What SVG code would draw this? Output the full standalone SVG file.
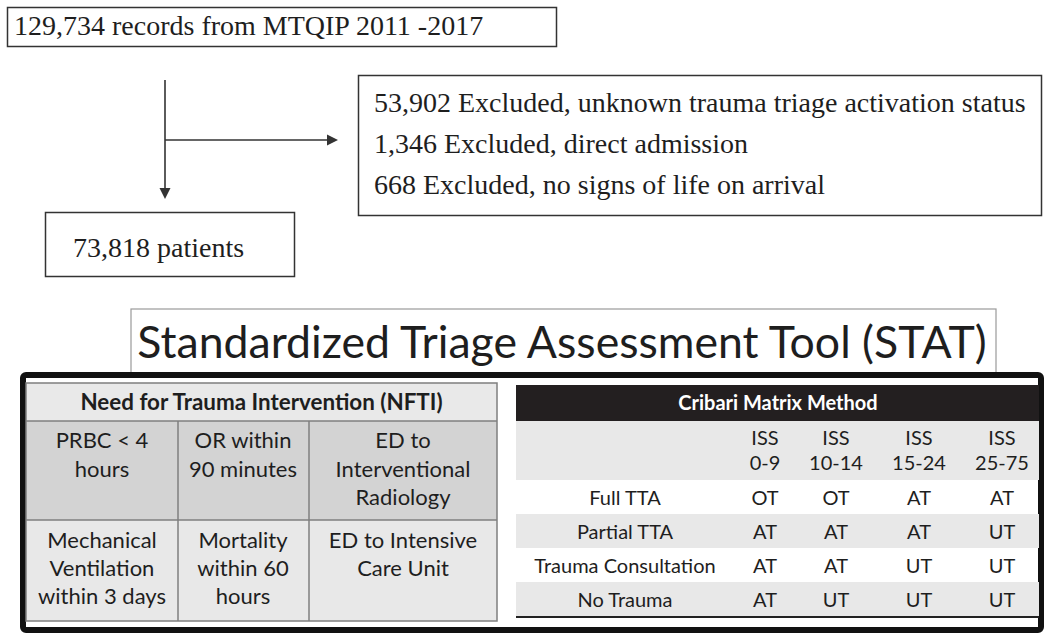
<svg xmlns="http://www.w3.org/2000/svg" width="1050" height="640" viewBox="0 0 1050 640">
  <style>
    .box { fill: #ffffff; stroke: #333333; stroke-width: 1.5; }
    .serif { font-family: "Liberation Serif", "Times New Roman", serif; font-size: 28px; fill: #1e1e1e; }
    .conn { stroke: #333333; stroke-width: 1.6; fill: none; }
    .head { fill: #333333; }
    .sans { font-family: "Lato", "Open Sans", sans-serif; fill: #1e1e1e; text-anchor: middle; }
    .cell { font-size: 22px; }
    .bold { font-weight: bold; }
    .grid { stroke: #7f7f7f; stroke-width: 1.5; fill: none; }
    .mx { font-size: 20px; }
  </style>
  <rect width="1050" height="640" fill="#ffffff"/>

  <g id="records">
    <rect class="box" x="7.5" y="7.5" width="549" height="39"/>
    <text class="serif" x="14" y="35">129,734 records from MTQIP 2011 -2017</text>
  </g>

  <g id="excluded">
    <rect class="box" x="358.5" y="75.5" width="683" height="140"/>
    <text class="serif" x="374" y="112" font-size="28.3">53,902 Excluded, unknown trauma triage activation status</text>
    <text class="serif" x="374" y="153" font-size="28.3">1,346 Excluded, direct admission</text>
    <text class="serif" x="374" y="194" font-size="28.3">668 Excluded, no signs of life on arrival</text>
  </g>

  <g id="patients">
    <rect class="box" x="45.5" y="212.5" width="249" height="64"/>
    <text class="serif" x="73" y="257">73,818 patients</text>
  </g>

  <g id="connectors">
    <line class="conn" x1="165" y1="80" x2="165" y2="190"/>
    <polygon class="head" points="159.5,188 170.5,188 165,199"/>
    <line class="conn" x1="165" y1="140" x2="328" y2="140"/>
    <polygon class="head" points="327,134.5 327,145.5 338,140"/>
  </g>

  <g id="title">
    <rect x="131" y="309" width="865" height="70" fill="#ffffff" stroke="#9a9a9a" stroke-width="1.2"/>
    <text class="sans" x="562" y="358" font-size="44.6">Standardized Triage Assessment Tool (STAT)</text>
  </g>

  <g id="stat-frame">
    <rect x="23" y="375" width="1018" height="255" rx="3" fill="#ffffff" stroke="#111111" stroke-width="6"/>
  </g>

  <g id="nfti">
    <rect x="26" y="383" width="471" height="38" fill="#e9e9e9"/>
    <rect x="26" y="421" width="471" height="99" fill="#d3d3d3"/>
    <rect x="26" y="520" width="471" height="101" fill="#e8e8e8"/>
    <rect class="grid" x="26" y="383" width="471" height="238"/>
    <line class="grid" x1="26" y1="421" x2="497" y2="421"/>
    <line class="grid" x1="26" y1="520" x2="497" y2="520"/>
    <line class="grid" x1="178" y1="421" x2="178" y2="621"/>
    <line class="grid" x1="309" y1="421" x2="309" y2="621"/>
    <text class="sans bold" x="261.5" y="410" font-size="22.4">Need for Trauma Intervention (NFTI)</text>
    <text class="sans cell" x="102" y="448">PRBC &lt; 4</text>
    <text class="sans cell" x="102" y="477">hours</text>
    <text class="sans cell" x="243" y="448">OR within</text>
    <text class="sans cell" x="243" y="477">90 minutes</text>
    <text class="sans cell" x="403" y="448">ED to</text>
    <text class="sans cell" x="403" y="477">Interventional</text>
    <text class="sans cell" x="403" y="505">Radiology</text>
    <text class="sans cell" x="102" y="548">Mechanical</text>
    <text class="sans cell" x="102" y="576">Ventilation</text>
    <text class="sans cell" x="102" y="604">within 3 days</text>
    <text class="sans cell" x="243" y="548">Mortality</text>
    <text class="sans cell" x="243" y="576">within 60</text>
    <text class="sans cell" x="243" y="604">hours</text>
    <text class="sans cell" x="403" y="548">ED to Intensive</text>
    <text class="sans cell" x="403" y="576">Care Unit</text>
  </g>

  <g id="cribari">
    <rect x="516" y="385" width="523" height="36" fill="#231f20"/>
    <rect x="516" y="421" width="523" height="59" fill="#e8e8e8"/>
    <rect x="516" y="514" width="523" height="34" fill="#e8e8e8"/>
    <rect x="516" y="582" width="523" height="35" fill="#e8e8e8"/>
    <line x1="516" y1="617" x2="1039" y2="617" stroke="#222222" stroke-width="2"/>
    <text class="sans bold" x="778" y="410" font-size="20" style="fill:#ffffff">Cribari Matrix Method</text>
    <text class="sans mx" x="765" y="445">ISS</text>
    <text class="sans mx" x="765" y="470">0-9</text>
    <text class="sans mx" x="836" y="445">ISS</text>
    <text class="sans mx" x="836" y="470">10-14</text>
    <text class="sans mx" x="919" y="445">ISS</text>
    <text class="sans mx" x="919" y="470">15-24</text>
    <text class="sans mx" x="1002" y="445">ISS</text>
    <text class="sans mx" x="1002" y="470">25-75</text>
    <text class="sans mx" x="625" y="505">Full TTA</text>
    <text class="sans mx" x="765" y="505">OT</text>
    <text class="sans mx" x="836" y="505">OT</text>
    <text class="sans mx" x="919" y="505">AT</text>
    <text class="sans mx" x="1002" y="505">AT</text>
    <text class="sans mx" x="625" y="539">Partial TTA</text>
    <text class="sans mx" x="765" y="539">AT</text>
    <text class="sans mx" x="836" y="539">AT</text>
    <text class="sans mx" x="919" y="539">AT</text>
    <text class="sans mx" x="1002" y="539">UT</text>
    <text class="sans mx" x="625" y="573">Trauma Consultation</text>
    <text class="sans mx" x="765" y="573">AT</text>
    <text class="sans mx" x="836" y="573">AT</text>
    <text class="sans mx" x="919" y="573">UT</text>
    <text class="sans mx" x="1002" y="573">UT</text>
    <text class="sans mx" x="625" y="607">No Trauma</text>
    <text class="sans mx" x="765" y="607">AT</text>
    <text class="sans mx" x="836" y="607">UT</text>
    <text class="sans mx" x="919" y="607">UT</text>
    <text class="sans mx" x="1002" y="607">UT</text>
  </g>
</svg>
